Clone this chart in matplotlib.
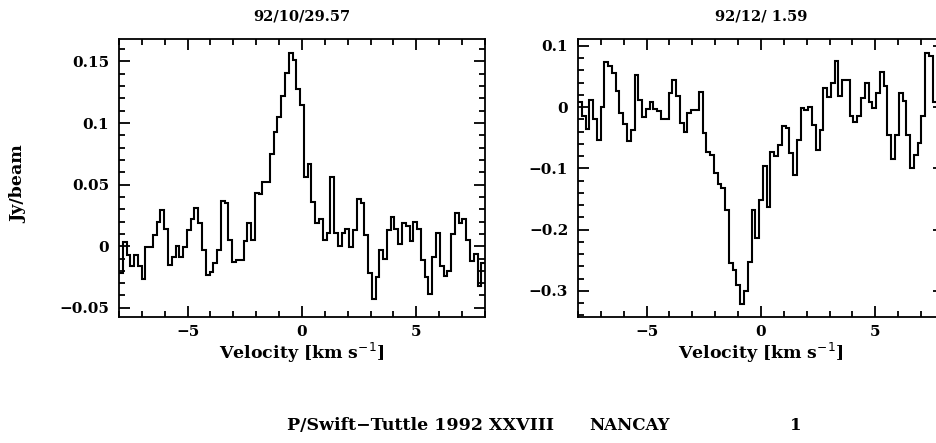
import matplotlib
matplotlib.use("Agg")
import matplotlib.pyplot as plt
import matplotlib.ticker as ticker
import numpy as np

plt.rcParams['font.family'] = ['DejaVu Serif']
plt.rcParams['axes.unicode_minus'] = True

# channel grid (km/s)
v_start = -8.0
dv = 0.165

# 92/10/29.57 spectrum (Jy/beam), one value per channel
spec_oct = [-0.022, 0.003, -0.007, -0.016, -0.007, -0.016, -0.027, -0.001, -0.001, 0.009,
            0.020, 0.029, 0.014, -0.015, -0.009, 0.000, -0.009, -0.001, 0.013, 0.022,
            0.031, 0.019, -0.003, -0.023, -0.021, -0.014, -0.003, 0.037, 0.035, 0.005,
            -0.013, -0.011, -0.011, 0.004, 0.019, 0.005, 0.043, 0.042, 0.052, 0.052,
            0.075, 0.093, 0.105, 0.122, 0.141, 0.157, 0.151, 0.128, 0.115, 0.056,
            0.067, 0.036, 0.019, 0.022, 0.005, 0.011, 0.056, 0.011, 0.000, 0.011,
            0.014, -0.001, 0.013, 0.038, 0.035, 0.009, -0.022, -0.043, -0.025, -0.003,
            -0.010, 0.013, 0.024, 0.014, 0.002, 0.019, 0.016, 0.004, 0.020, 0.014,
            -0.011, -0.025, -0.039, -0.009, 0.011, -0.016, -0.024, -0.020, 0.010, 0.027,
            0.019, 0.022, 0.005, -0.012, -0.006, -0.032, -0.014]

# 92/12/ 1.59 spectrum (Jy/beam)
spec_dec = [0.009, -0.014, -0.036, 0.012, -0.019, -0.053, 0.001, 0.073, 0.068, 0.056,
            0.026, -0.010, -0.028, -0.056, -0.037, 0.053, 0.011, -0.016, -0.003, 0.009,
            -0.003, -0.006, -0.019, -0.019, 0.023, 0.044, 0.018, -0.026, -0.040, -0.010,
            -0.004, -0.004, 0.024, -0.042, -0.073, -0.078, -0.108, -0.125, -0.132, -0.168,
            -0.254, -0.266, -0.290, -0.321, -0.300, -0.253, -0.168, -0.213, -0.151, -0.096,
            -0.163, -0.073, -0.080, -0.062, -0.031, -0.034, -0.075, -0.111, -0.053, -0.002,
            -0.004, 0.000, -0.029, -0.070, -0.037, 0.031, 0.016, 0.040, 0.075, 0.018,
            0.044, 0.044, -0.014, -0.024, -0.014, 0.015, 0.040, 0.008, -0.002, 0.023,
            0.058, 0.034, -0.045, -0.084, -0.045, 0.023, 0.010, -0.045, -0.099, -0.078,
            -0.059, -0.014, 0.088, 0.084, 0.009, 0.009, 0.005]

titles = ["92/10/29.57", "92/12/ 1.59"]
ylims = [(-0.0575, 0.1682), (-0.3427, 0.1113)]
yticks_major = [0.05, 0.1]
yticks_minor = [0.01, 0.02]
footer = ["P/Swift\u2212Tuttle 1992 XXVIII", "NANCAY", "1"]

fig = plt.figure(figsize=(9.36, 4.43), dpi=100)
axes = [fig.add_axes([0.1271, 0.2844, 0.3910, 0.6275]),
        fig.add_axes([0.6175, 0.2844, 0.3910, 0.6275])]

fmt = ticker.FuncFormatter(lambda x, p: ("%g" % round(x, 3)).replace("-", "\u2212"))

for ax, spec, title, yl, ym, yn in zip(axes, [spec_oct, spec_dec], titles, ylims,
                                       yticks_major, yticks_minor):
    edges = v_start + dv * np.arange(len(spec) + 1)
    ax.stairs(spec, edges, baseline=None, color='black', lw=1.5)
    ax.set_xlim(-8, 8)
    ax.set_ylim(*yl)
    ax.xaxis.set_major_locator(ticker.MultipleLocator(5))
    ax.xaxis.set_minor_locator(ticker.MultipleLocator(1))
    ax.yaxis.set_major_locator(ticker.MultipleLocator(ym))
    ax.yaxis.set_minor_locator(ticker.MultipleLocator(yn))
    ax.xaxis.set_major_formatter(fmt)
    ax.yaxis.set_major_formatter(fmt)
    ax.tick_params(which='both', direction='in', top=True, right=True,
                   labelsize=11, width=1.3, color='black')
    ax.tick_params(which='major', length=8)
    ax.tick_params(which='minor', length=4)
    ax.tick_params(axis='y', which='major', pad=7)
    ax.tick_params(axis='x', which='major', pad=6)
    for lab in ax.get_xticklabels() + ax.get_yticklabels():
        lab.set_fontweight('bold')
    for s in ax.spines.values():
        s.set_linewidth(1.3)
    ax.set_title(title, fontsize=10.5, fontweight='bold', pad=13)
    ax.set_xlabel("Velocity [km s$^{-1}$]", fontsize=12.5, fontweight='bold', labelpad=1)

fig.text(0.02, 0.585, "Jy/beam", rotation=90, ha='center', va='center',
         fontsize=12.5, fontweight='bold')
fig.text(0.307, 0.04, footer[0], ha='left', va='center', fontsize=12.5, fontweight='bold')
fig.text(0.630, 0.04, footer[1], ha='left', va='center', fontsize=12, fontweight='bold')
fig.text(0.850, 0.04, footer[2], ha='center', va='center', fontsize=12, fontweight='bold')

fig.savefig("out.png", dpi=100)
